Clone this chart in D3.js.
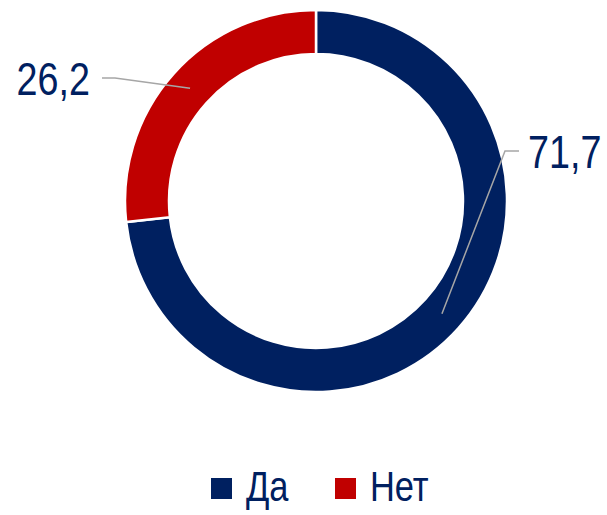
<!DOCTYPE html>
<html>
<head>
<meta charset="utf-8">
<script src="https://cdn.jsdelivr.net/npm/d3@7"></script>
<style>
    body { margin: 0; background: #fff; }
    text { font-family: "Liberation Sans", Arial, sans-serif; }
</style>
</head>
<body>
<svg width="607" height="515"></svg>
<script>
// data
var categories = ["Да", "Нет"];
var values = [71.7, 26.2];
var labels = ["71,7", "26,2"];
var colors = ["#002060", "#C00000"];

window.onload = main;

function main() {
    var svg = d3.select("svg");
    var cx = 316, cy = 201;
    var outerR = 191, innerR = 147;
    var narrow = 0.82; // squeeze to mimic Arial Narrow

    var data = categories.map(function (c, i) {
        return { name: c, value: values[i], label: labels[i], color: colors[i] };
    });

    var pie = d3.pie().sort(null).value(function (d) { return d.value; });
    var arc = d3.arc().innerRadius(innerR).outerRadius(outerR);

    var g = svg.append("g").attr("transform", "translate(" + cx + "," + cy + ")");
    var arcs = pie(data);

    g.selectAll("path.slice")
        .data(arcs)
        .enter()
        .append("path")
        .attr("class", "slice")
        .attr("d", arc)
        .attr("fill", function (d) { return d.data.color; })
        .attr("stroke", "#fff")
        .attr("stroke-width", 2.5);

    // label placement (relative to centre), elbow + text anchor
    var labelPos = [
        { elbow: [189, -50], end: [203, -50], tx: 212, ty: -33, anchor: "start" },
        { elbow: [-201, -123], end: [-214, -123], tx: -226, ty: -106, anchor: "end" }
    ];

    arcs.forEach(function (a, i) {
        var c = arc.centroid(a);
        var p = labelPos[i];
        g.append("polyline")
            .attr("points", [c, p.elbow, p.end].map(function (q) { return q.join(","); }).join(" "))
            .attr("fill", "none")
            .attr("stroke", "#A6A6A6")
            .attr("stroke-width", 1.5);
        g.append("text")
            .attr("transform", "translate(" + p.tx + "," + p.ty + ") scale(" + narrow + ",1)")
            .attr("text-anchor", p.anchor)
            .attr("font-size", 46)
            .attr("fill", "#002060")
            .text(a.data.label);
    });

    // Legend
    var legend = svg.append("g").attr("transform", "translate(211,478)");
    var offsets = [0, 124];
    data.forEach(function (d, i) {
        var lg = legend.append("g").attr("transform", "translate(" + offsets[i] + ",0)");
        lg.append("rect")
            .attr("width", 21)
            .attr("height", 21)
            .attr("fill", d.color);
        lg.append("text")
            .attr("transform", "translate(35,23) scale(" + narrow + ",1)")
            .attr("font-size", 42)
            .attr("fill", "#002060")
            .text(d.name);
    });
}
</script>
</body>
</html>
